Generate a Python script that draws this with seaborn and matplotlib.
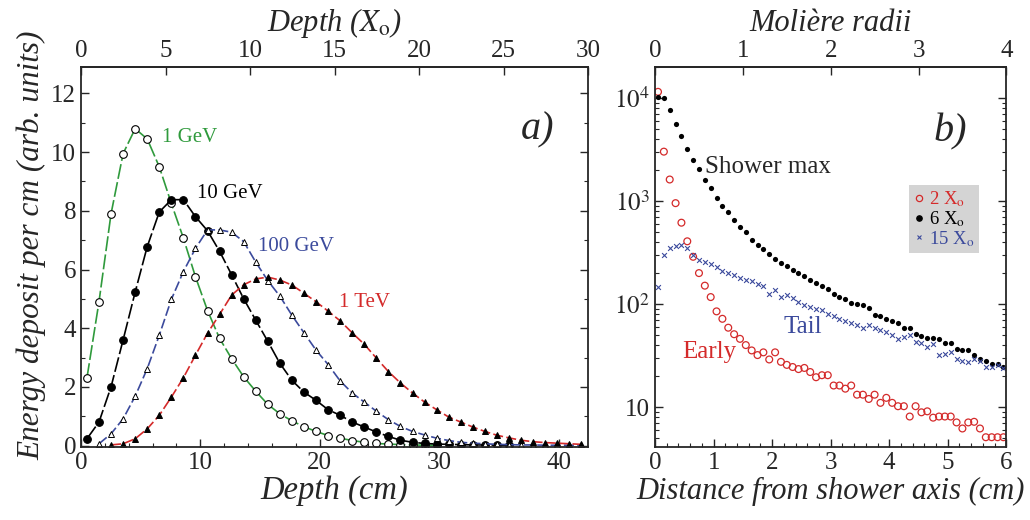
import math

import matplotlib
matplotlib.use("Agg")
import matplotlib.pyplot as plt
from matplotlib.lines import Line2D
from matplotlib.ticker import MultipleLocator, FixedLocator, FuncFormatter, LogLocator, NullFormatter
import seaborn as sns

# ---- panel a): longitudinal profiles (read off the figure) ----
depth_cm = [0.5, 1.51, 2.52, 3.53, 4.54, 5.55, 6.56, 7.57, 8.58, 9.59, 10.6, 11.61,
            12.62, 13.63, 14.64, 15.65, 16.66, 17.67, 18.68, 19.69, 20.7, 21.71,
            22.72, 23.73, 24.74, 25.75, 26.76, 27.77, 28.78, 29.79, 30.8, 31.81,
            32.82, 33.83, 34.84, 35.85, 36.86, 37.87, 38.88, 39.89, 40.9, 41.91]

e_1gev = [2.3, 4.9, 7.9, 9.95, 10.8, 10.45, 9.5, 8.25, 7.07, 5.75, 4.6, 3.65,
          2.96, 2.34, 1.85, 1.4, 1.08, 0.84, 0.64, 0.48, 0.34, 0.25, 0.17, 0.11,
          0.07, 0.05, 0.03, 0.02, 0.01, 0.01]
e_10gev = [0.23, 0.8, 2.0, 3.6, 5.23, 6.78, 7.96, 8.38, 8.38, 7.8, 7.32, 6.62,
           5.82, 5.0, 4.27, 3.55, 2.8, 2.22, 1.82, 1.54, 1.22, 1.03, 0.8, 0.63,
           0.46, 0.31, 0.18, 0.11, 0.07, 0.05, 0.04, 0.03, 0.02, 0.02, 0.01, 0.01]
# starts at the second depth marker
e_100gev = [0.06, 0.4, 0.91, 1.68, 2.62, 3.76, 4.98, 5.93, 6.72, 7.35, 7.35,
            7.27, 6.95, 6.25, 5.62, 5.09, 4.44, 3.84, 3.25, 2.76, 2.2, 1.79, 1.48,
            1.17, 0.88, 0.65, 0.48, 0.36, 0.25, 0.17, 0.11, 0.08, 0.06, 0.04,
            0.03, 0.02, 0.02, 0.01, 0.01, 0.01, 0.01]
# starts at the third depth marker
e_1tev = [0.02, 0.06, 0.23, 0.57, 1.03, 1.65, 2.31, 3.08, 3.83, 4.47, 5.13, 5.48,
          5.68, 5.74, 5.64, 5.47, 5.19, 4.9, 4.58, 4.25, 3.84, 3.45, 2.98, 2.52,
          2.13, 1.79, 1.48, 1.22, 0.97, 0.8, 0.63, 0.48, 0.35, 0.26, 0.18, 0.13,
          0.1, 0.08, 0.06, 0.04]

# ---- panel b): lateral profiles ----
radius_cm = [0.05, 0.15, 0.25, 0.35, 0.45, 0.55, 0.65, 0.75, 0.85, 0.95,
             1.05, 1.15, 1.25, 1.35, 1.45, 1.55, 1.65, 1.75, 1.85, 1.95,
             2.05, 2.15, 2.25, 2.35, 2.45, 2.55, 2.65, 2.75, 2.85, 2.95,
             3.05, 3.15, 3.25, 3.35, 3.45, 3.55, 3.65, 3.75, 3.85, 3.95,
             4.05, 4.15, 4.25, 4.35, 4.45, 4.55, 4.65, 4.75, 4.85, 4.95,
             5.05, 5.15, 5.25, 5.35, 5.45, 5.55, 5.65, 5.75, 5.85, 5.95]
early_2x0 = [11500, 3020, 1620, 955, 617, 407, 288, 200, 151, 117,
             85, 72, 59, 51, 46, 40, 35.5, 32, 34, 29,
             34, 27.5, 25.7, 24.5, 23.4, 24, 21.9, 19.5, 20.4, 20.4,
             16.2, 16.2, 15.1, 16.2, 13.2, 13.2, 12, 13.2, 11, 12.3,
             11, 10.2, 10.2, 8.1, 10.2, 8.9, 9.1, 7.9, 8.1, 8.1,
             8.1, 7.1, 6.2, 7.1, 7.2, 6.2, 5.1, 5.1, 5.1, 5.1]
max_6x0 = [10230, 10000, 7590, 5620, 4270, 3240, 2510, 2040, 1620, 1350,
           1070, 891, 776, 661, 562, 501, 417, 372, 339, 309,
           275, 251, 234, 214, 200, 186, 170, 162, 151, 141,
           126, 117, 112, 102, 100, 98, 91, 78, 76, 72,
           69, 65, 59, 58, 51, 49, 47, 47, 46, 42,
           42, 37, 36, 35.5, 32, 29, 28, 26, 26, 24.5]
tail_15x0 = [148, 302, 347, 363, 372, 347, 302, 269, 257, 245,
             229, 209, 200, 191, 178, 170, 166, 155, 151, 126,
             138, 117, 123, 115, 105, 98, 93, 89, 87, 81,
             76, 72, 69, 65, 63, 59, 62, 58, 56, 54,
             50, 46, 48, 50, 43, 42, 38, 41, 32, 33,
             34, 29, 28, 27.5, 29, 28, 24.5, 24.5, 25.7, 24]

legend_labels = [r"2 X$_\mathrm{o}$", r"6 X$_\mathrm{o}$", r"15 X$_\mathrm{o}$"]

GREEN = "#2f9a3c"
BLUE = "#3b4a9c"
RED = "#d42a2a"
CM_PER_X0 = 42.5 / 30
MOLIERE_CM = 1.5

sns.set_theme(style="ticks")
plt.rcParams["font.family"] = ["Liberation Serif", "DejaVu Serif"]
plt.rcParams["mathtext.fontset"] = "stix"
plt.rcParams["axes.linewidth"] = 1.3

fig = plt.figure(figsize=(10.3, 5.2), dpi=100)
ax1 = fig.add_axes([0.0786, 0.1404, 0.4927, 0.7306])
ax2 = fig.add_axes([0.636, 0.1404, 0.341, 0.7306])

# panel a
dash = (0, (9, 2))
sns.lineplot(x=depth_cm[:len(e_1gev)], y=e_1gev, ax=ax1, color=GREEN, linestyle=dash,
             lw=1.2, marker="o", markersize=5.5, markerfacecolor="white",
             markeredgecolor="black", markeredgewidth=0.8)
sns.lineplot(x=depth_cm[:len(e_10gev)], y=e_10gev, ax=ax1, color="black", linestyle=dash,
             lw=1.2, marker="o", markersize=5.5, markerfacecolor="black",
             markeredgecolor="black", markeredgewidth=0.8)
sns.lineplot(x=depth_cm[1:1 + len(e_100gev)], y=e_100gev, ax=ax1, color=BLUE,
             linestyle=(0, (6, 2)), lw=1.2, marker="^", markersize=5,
             markerfacecolor="white", markeredgecolor="black", markeredgewidth=0.7)
sns.lineplot(x=depth_cm[2:2 + len(e_1tev)], y=e_1tev, ax=ax1, color=RED,
             linestyle=(0, (6, 2)), lw=1.2, marker="^", markersize=5,
             markerfacecolor="black", markeredgecolor="black", markeredgewidth=0.7)

ax1.set_xlim(0, 42.5)
ax1.set_ylim(-0.05, 12.9)
ax1.xaxis.set_major_locator(MultipleLocator(10))
ax1.xaxis.set_minor_locator(MultipleLocator(2))
ax1.yaxis.set_major_locator(MultipleLocator(2))
ax1.yaxis.set_minor_locator(MultipleLocator(1))
ax1.tick_params(which="both", direction="in", top=False, right=True, labelsize=18)
ax1.tick_params(which="major", length=6, width=1)
ax1.tick_params(which="minor", length=3, width=0.8)
ax1.set_xlabel("Depth (cm)", fontsize=23.5, fontstyle="italic", labelpad=1)
ax1.set_ylabel("Energy deposit per cm (arb. units)", fontsize=22.5,
               fontstyle="italic")
ax1.yaxis.set_label_coords(-0.068, 0.53)

top1 = ax1.secondary_xaxis("top", functions=(lambda x: x / CM_PER_X0,
                                             lambda x: x * CM_PER_X0))
top1.xaxis.set_major_locator(MultipleLocator(5))
top1.tick_params(direction="in", length=6, width=1, labelsize=18, pad=4)
top1.set_xlabel(r"Depth ($X_\mathrm{o}$)", fontsize=22, fontstyle="italic", labelpad=6)

ax1.text(6.8, 10.5, "1 GeV", color=GREEN, fontsize=15, va="center")
ax1.text(9.7, 8.6, "10 GeV", color="black", fontsize=15, va="center")
ax1.text(14.8, 6.77, "100 GeV", color=BLUE, fontsize=15, va="center")
ax1.text(21.65, 4.89, "1 TeV", color=RED, fontsize=15, va="center")
ax1.text(36.8, 10.77, "a)", fontsize=29, fontstyle="italic", va="center")

# panel b
sns.scatterplot(x=radius_cm, y=early_2x0, ax=ax2, marker="o", s=24,
                facecolor="none", edgecolor=RED, linewidth=0.9)
sns.scatterplot(x=radius_cm, y=max_6x0, ax=ax2, marker="o", s=14,
                color="black", edgecolor="black", linewidth=0)
sns.scatterplot(x=radius_cm, y=tail_15x0, ax=ax2, marker="x", s=12,
                color=BLUE, linewidth=0.8)
ax2.collections[0].set_facecolor("none")
ax2.collections[0].set_edgecolor(RED)

ax2.set_yscale("log")
ax2.set_xlim(0, 6)
ax2.set_ylim(4.1, 20000)
ax2.xaxis.set_major_locator(MultipleLocator(1))
ax2.xaxis.set_minor_locator(MultipleLocator(0.2))
ax2.yaxis.set_major_locator(FixedLocator([10, 100, 1000, 10000]))
ax2.yaxis.set_major_formatter(FuncFormatter(
    lambda v, p: "10" if v < 50 else r"$10^{%d}$" % round(math.log10(v))))
ax2.yaxis.set_minor_locator(LogLocator(base=10, subs=range(2, 10)))
ax2.yaxis.set_minor_formatter(NullFormatter())
ax2.tick_params(which="both", direction="in", top=False, right=True, labelsize=18)
ax2.tick_params(which="major", length=6, width=1)
ax2.tick_params(which="minor", length=3, width=0.8)
ax2.set_xlabel("Distance from shower axis (cm)", fontsize=22, fontstyle="italic",
               labelpad=2)
ax2.set_ylabel("")

top2 = ax2.secondary_xaxis("top", functions=(lambda x: x / MOLIERE_CM,
                                             lambda x: x * MOLIERE_CM))
top2.xaxis.set_major_locator(MultipleLocator(1))
top2.tick_params(direction="in", length=6, width=1, labelsize=18, pad=4)
top2.set_xlabel("Molière radii", fontsize=22, fontstyle="italic", labelpad=6)

ax2.text(0.855, 2140, "Shower max", fontsize=18, va="center")
ax2.text(2.19, 60, "Tail", color=BLUE, fontsize=18, va="center")
ax2.text(0.46, 34, "Early", color=RED, fontsize=18, va="center")
ax2.text(4.75, 4680, "b)", fontsize=29, fontstyle="italic", va="center")

handles = [
    Line2D([], [], ls="", marker="o", ms=4.5, mfc="none", mec=RED, mew=0.9),
    Line2D([], [], ls="", marker="o", ms=3.8, mfc="black", mec="black"),
    Line2D([], [], ls="", marker="x", ms=3.5, color=BLUE, mew=0.8),
]
leg = ax2.legend(handles, legend_labels, loc="upper left", bbox_to_anchor=(0.724, 0.69),
                 frameon=True, facecolor="#d4d4d4", edgecolor="none", fancybox=False,
                 framealpha=1, handlelength=0.5, handletextpad=0.3, borderpad=0.25,
                 labelspacing=0.0, fontsize=13.5, borderaxespad=0)
for t, c in zip(leg.get_texts(), [RED, "black", BLUE]):
    t.set_color(c)

fig.savefig("out.png", dpi=100)
